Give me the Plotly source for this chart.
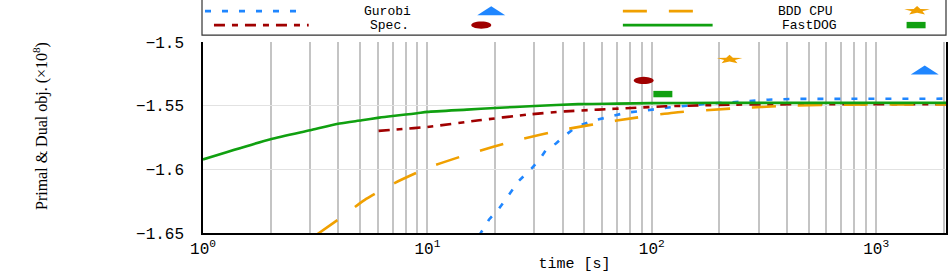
import math
import plotly.graph_objects as go

# ---------------- data ----------------
series_names = ["Gurobi", "Spec.", "BDD CPU", "FastDOG"]

gurobi_t = [17.0, 18.8, 20.9, 23.1, 25.6, 29.2, 31.4, 33.7, 37.4, 40, 46, 55, 64.5, 77, 95, 116, 143, 180, 265, 330, 420, 2050]
gurobi_v = [-1.652, -1.6396, -1.6305, -1.620, -1.609, -1.599, -1.593, -1.585, -1.5797, -1.575, -1.5666, -1.5617,
            -1.5586, -1.5555, -1.5537, -1.5516, -1.550, -1.5484, -1.5466, -1.5453, -1.5447, -1.5445]

spec_t = [6.06, 7.5, 10, 17, 28, 41, 58, 81, 115, 162, 226, 321, 2050]
spec_v = [-1.5698, -1.5685, -1.5667, -1.5615, -1.557, -1.5545, -1.5531, -1.5518, -1.5505, -1.5498, -1.5492, -1.5490, -1.5488]

bdd_t = [3.24, 4.15, 5.24, 7.1, 10.2, 15.6, 24.8, 40.7, 69.8, 125, 226, 418, 752, 2050]
bdd_v = [-1.6508, -1.6375, -1.6242, -1.611, -1.5984, -1.5875, -1.5773, -1.5688, -1.5617, -1.5555, -1.5523, -1.550, -1.5492, -1.549]

fastdog_t = [1, 2, 3, 4.06, 5.1, 6.1, 7, 8, 9, 10, 15, 20, 30, 47, 70, 100, 200, 2050]
fastdog_v = [-1.5922, -1.5763, -1.5693, -1.564, -1.5615, -1.5594, -1.5581, -1.557, -1.556, -1.5549, -1.5531,
             -1.5518, -1.5503, -1.5488, -1.5484, -1.548, -1.5478, -1.5478]

# final (primal) points, one per solver
final_t = [1645, 92, 222, 112]
final_v = [-1.5224, -1.5302, -1.5141, -1.5409]

xtick_vals = [1, 10, 100, 1000]
xtick_labels = ["10<sup>0</sup>", "10<sup>1</sup>", "10<sup>2</sup>", "10<sup>3</sup>"]
ytick_vals = [-1.65, -1.6, -1.55, -1.5]
ytick_labels = ["\u22121.65", "\u22121.6", "\u22121.55", "\u22121.5"]

x_label = "time [s]"
y_label = "Primal &amp; Dual obj. (\u00d710<sup>8</sup>)"

# ---------------- styles ----------------
colors = ["#1f86ff", "#a00000", "#f0a000", "#10a010"]
dashes = ["6px,11px", "11px,7px,6px,7px", "24px,22px", "solid"]
shapes_kind = ["triangle", "ellipse", "star", "rect"]
line_shapes = ["linear", "spline", "spline", "spline"]
series_t = [gurobi_t, spec_t, bdd_t, fastdog_t]
series_v = [gurobi_v, spec_v, bdd_v, fastdog_v]

MONO = "Liberation Mono, DejaVu Sans Mono, monospace"
SERIF = "Liberation Serif, DejaVu Serif, serif"

L, R, T, B = 203, 2, 42, 39
W, H = 950, 273
PW, PH = W - L - R, H - T - B


def px2paper_x(px):
    return (px - L) / PW


def py2paper_y(py):
    return (H - B - py) / PH


def poly_path(pts):
    return "M" + " L".join(f"{x:.2f},{y:.2f}" for x, y in pts) + " Z"


def star_path(rx, ry):
    pts = []
    for k in range(10):
        a = math.radians(90 + 36 * k)
        r = 1.0 if k % 2 == 0 else 0.42
        pts.append((rx * r * math.cos(a), ry * (r * math.sin(a) + 0.1)))
    return poly_path(pts)


def ellipse_path(rx, ry):
    pts = [(rx * math.cos(2 * math.pi * k / 28), ry * math.sin(2 * math.pi * k / 28)) for k in range(28)]
    return poly_path(pts)


PATHS = {
    "triangle": poly_path([(-14, -4), (14, -4), (0, 5)]),
    "star": star_path(13.5, 4.8),
    "ellipse": ellipse_path(10, 3.6),
    "rect": poly_path([(-9.5, -3.2), (9.5, -3.2), (9.5, 3.2), (-9.5, 3.2)]),
}


def marker_shape(kind, xa, ya, color, xref, yref):
    return dict(type="path", path=PATHS[kind], xref=xref, yref=yref,
                xsizemode="pixel", ysizemode="pixel", xanchor=xa, yanchor=ya,
                fillcolor=color, layer="above", line=dict(width=0, color=color))


fig = go.Figure()
for name, t, v, c, d, ls in zip(series_names, series_t, series_v, colors, dashes, line_shapes):
    fig.add_trace(go.Scatter(x=t, y=v, mode="lines", name=name,
                             line=dict(color=c, width=2.6, dash=d, shape=ls, smoothing=0.6),
                             showlegend=False, hoverinfo="skip"))

shapes = []
for kind, t, v, c in zip(shapes_kind, final_t, final_v, colors):
    shapes.append(marker_shape(kind, t, v, c, "x", "y"))

# ---------------- custom legend ----------------
shapes.append(dict(type="rect", xref="paper", yref="paper",
                   x0=px2paper_x(202), x1=px2paper_x(948),
                   y0=py2paper_y(35), y1=py2paper_y(-2),
                   line=dict(color="#333333", width=1.2), fillcolor="white", layer="above"))

legend_rows = [
    # (line x0, line x1, row y, text centre x, marker x)
    (205, 307, 11, 388, 492),
    (214, 309, 25, 390, 482),
    (624, 714, 11, 807, 919),
    (624, 714, 25, 811, 918),
]
annotations = []
for (lx0, lx1, ry, tx, mx), name, c, d, kind in zip(legend_rows, series_names, colors, dashes, shapes_kind):
    shapes.append(dict(type="line", xref="paper", yref="paper",
                       x0=px2paper_x(lx0), x1=px2paper_x(lx1),
                       y0=py2paper_y(ry), y1=py2paper_y(ry),
                       line=dict(color=c, width=2.6, dash=d), layer="above"))
    shapes.append(marker_shape(kind, px2paper_x(mx), py2paper_y(ry), c, "paper", "paper"))
    annotations.append(dict(xref="paper", yref="paper", x=px2paper_x(tx), y=py2paper_y(ry),
                            text=name, showarrow=False, xanchor="center", yanchor="middle",
                            borderpad=0,
                            font=dict(family=MONO, size=13, color="black")))

# y axis title (rotated)
annotations.append(dict(xref="paper", yref="paper", x=px2paper_x(40), y=py2paper_y(126),
                        text=y_label, textangle=-90, showarrow=False,
                        xanchor="center", yanchor="middle",
                        font=dict(family=SERIF, size=16, color="black")))

fig.update_layout(
    width=W, height=H,
    margin=dict(l=L, r=R, t=T, b=B, pad=0),
    paper_bgcolor="white", plot_bgcolor="white",
    shapes=shapes, annotations=annotations,
    showlegend=False,
    xaxis=dict(
        type="log", range=[0, 3.311],
        tickvals=xtick_vals, ticktext=xtick_labels,
        ticks="", showline=True, linecolor="black", linewidth=1.5, mirror=False,
        showgrid=True, gridcolor="#c4c4c4", gridwidth=1.6,
        minor=dict(dtick="D1", showgrid=True, gridcolor="#c4c4c4", gridwidth=1.6, ticks=""),
        tickfont=dict(family=MONO, size=16, color="black"),
        title=dict(text=x_label, font=dict(family=MONO, size=15, color="black"), standoff=2),
        zeroline=False,
    ),
    yaxis=dict(
        range=[-1.65, -1.5],
        tickvals=ytick_vals, ticktext=ytick_labels,
        ticks="", ticklabelstandoff=14,
        showline=True, linecolor="black", linewidth=1.5, mirror=True,
        showgrid=True, gridcolor="#e2e2e2", gridwidth=1.2,
        tickfont=dict(family=MONO, size=16, color="black"),
        zeroline=False,
    ),
)

fig.write_html("out.html", config={"displayModeBar": False},
               post_script="document.body.style.margin='0';")
